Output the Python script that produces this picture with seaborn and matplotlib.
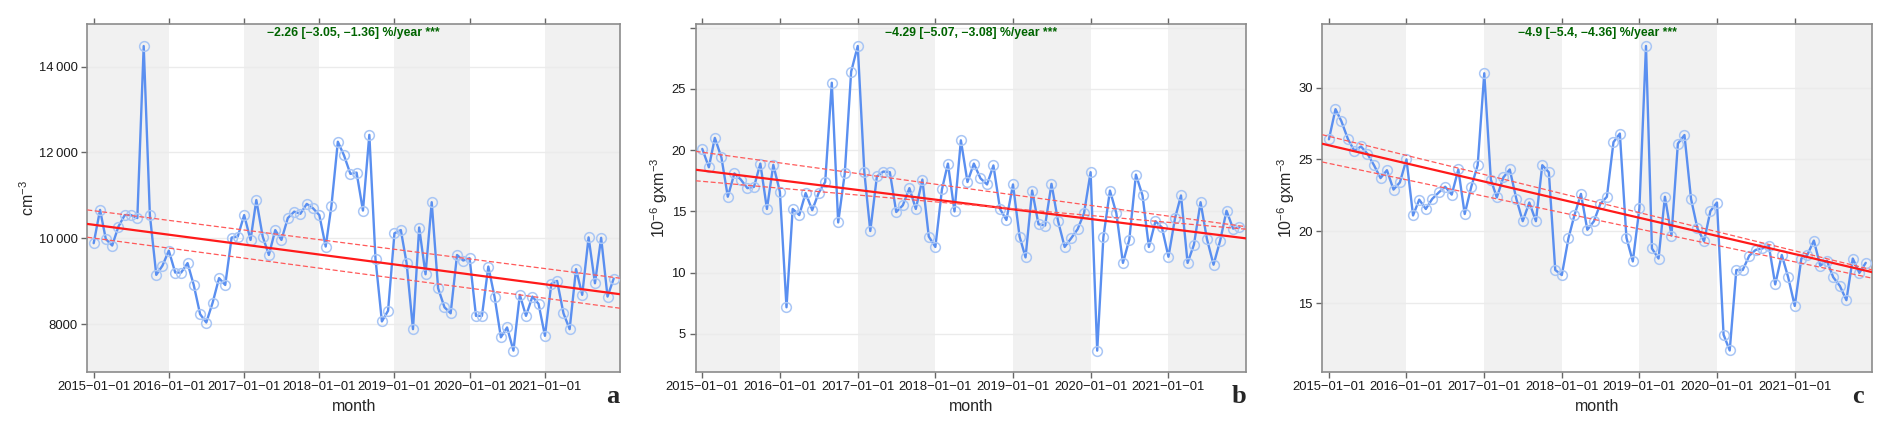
import pandas as pd
import matplotlib.pyplot as plt
import seaborn as sns

# monthly series, 2015-01 .. 2021-12
months = pd.date_range('2015-01-01', periods=84, freq='MS')

number_conc = [9884, 10660, 9980, 9830, 10270, 10540, 10540, 10470, 14480, 10540, 9145, 9360,
               9710, 9200, 9200, 9420, 8910, 8230, 8035, 8500, 9070, 8910, 10015, 10040,
               10540, 9960, 10890, 10040, 9610, 10190, 9960, 10470, 10620, 10570, 10800, 10700,
               10540, 9806, 10760, 12250, 11930, 11500, 11530, 10645, 12410, 9510, 8060, 8310,
               10115, 10190, 9420, 7880, 10250, 9160, 10840, 8835, 8390, 8250, 9610, 9480,
               9535, 8190, 8190, 9340, 8640, 7690, 7920, 7380, 8680, 8190, 8640, 8470,
               7725, 8935, 9005, 8250, 7880, 9280, 8680, 10020, 8950, 10010, 8640, 9060]

mass_b = [20.1, 18.6, 21.0, 19.4, 16.2, 18.1, 17.6, 16.9, 17.0, 18.9, 15.2, 18.8,
          16.6, 7.18, 15.2, 14.7, 16.5, 15.1, 16.5, 17.4, 25.5, 14.1, 18.1, 26.4,
          28.5, 18.2, 13.4, 17.85, 18.25, 18.2, 14.95, 15.5, 16.9, 15.2, 17.6, 12.95,
          12.1, 16.8, 18.9, 15.0, 20.8, 17.4, 18.9, 17.7, 17.2, 18.75, 15.2, 14.3,
          17.2, 12.95, 11.25, 16.7, 13.95, 13.85, 17.25, 14.2, 12.1, 12.8, 13.55, 14.85,
          18.2, 3.64, 12.9, 16.7, 14.85, 10.8, 12.7, 18.0, 16.3, 12.1, 14.2, 13.7,
          11.3, 14.45, 16.3, 10.8, 12.3, 15.75, 12.75, 10.65, 12.6, 15.05, 13.6, 13.7]

mass_c = [26.4, 28.5, 27.65, 26.4, 25.6, 25.9, 25.4, 24.6, 23.7, 24.25, 22.9, 23.4,
          25.0, 21.1, 22.2, 21.55, 22.25, 22.7, 23.1, 22.55, 24.3, 21.2, 23.1, 24.6,
          31.0, 23.6, 22.35, 23.75, 24.3, 22.25, 20.7, 22.0, 20.7, 24.6, 24.1, 17.3,
          16.95, 19.5, 21.1, 22.6, 20.1, 20.7, 21.9, 22.4, 26.2, 26.8, 19.55, 17.9,
          21.6, 32.9, 18.8, 18.1, 22.4, 19.7, 26.1, 26.7, 22.25, 20.2, 19.3, 21.4,
          22.0, 12.8, 11.7, 17.3, 17.3, 18.3, 18.7, 18.8, 19.0, 16.3, 18.35, 16.8,
          14.8, 18.1, 18.35, 19.35, 17.6, 17.95, 16.8, 16.2, 15.2, 18.1, 17.1, 17.8]

# Theil-Sen trend (value at start / end of the x range) and its CI lines
trend_a = {'fit': [10333, 8695], 'hi': [10660, 9068], 'lo': [10023, 8368]}
trend_b = {'fit': [18.4, 12.8], 'hi': [19.9, 13.75], 'lo': [17.5, 13.55]}
trend_c = {'fit': [26.09, 17.15], 'hi': [26.72, 17.31], 'lo': [24.82, 16.73]}

slope_labels = ['\u22122.26 [\u22123.05, \u22121.36] %/year ***',
                '\u22124.29 [\u22125.07, \u22123.08] %/year ***',
                '\u22124.9 [\u22125.4, \u22124.36] %/year ***']
ylabels = ['cm$^{-3}$', '10$^{-6}$ gxm$^{-3}$', '10$^{-6}$ gxm$^{-3}$']
yticks = [[8000, 10000, 12000, 14000], [5, 10, 15, 20, 25, 30], [15, 20, 25, 30]]
ytick_labels = [['8000', '10\u2009000', '12\u2009000', '14\u2009000'],
                ['5', '10', '15', '20', '25', ''],
                ['15', '20', '25', '30']]
ylims = [(6888, 14988), (1.92, 30.27), (10.22, 34.41)]
panel_letters = ['a', 'b', 'c']
year_ticks = pd.date_range('2015-01-01', '2021-01-01', freq='YS')

sns.set_style('white')
plt.rcParams['font.family'] = ['Liberation Sans', 'DejaVu Sans']
plt.rcParams['mathtext.fontset'] = 'custom'
plt.rcParams['mathtext.rm'] = 'Liberation Sans'

fig = plt.figure(figsize=(18.92, 4.34), dpi=100)
positions = [[0.04614, 0.1435, 0.2816, 0.8006],
             [0.3677, 0.1435, 0.2909, 0.8006],
             [0.6989, 0.1435, 0.2907, 0.8006]]
letter_x = [0.998, 1.0, 0.984]

x0 = pd.Timestamp('2014-12-01')
x1 = pd.Timestamp('2022-01-01')

for k, (vals, trend) in enumerate(zip([number_conc, mass_b, mass_c], [trend_a, trend_b, trend_c])):
    ax = fig.add_axes(positions[k])
    df = pd.DataFrame({'month': months, 'value': vals})

    # alternating year shading
    ax.axvspan(x0, pd.Timestamp('2016-01-01'), color='#f1f1f1', lw=0, zorder=0)
    for yr in [2017, 2019]:
        ax.axvspan(pd.Timestamp(f'{yr}-01-01'), pd.Timestamp(f'{yr + 1}-01-01'),
                   color='#f1f1f1', lw=0, zorder=0)
    ax.axvspan(pd.Timestamp('2021-01-01'), x1, color='#f1f1f1', lw=0, zorder=0)
    for yv in yticks[k]:
        ax.axhline(yv, color='#ebebeb', lw=1, zorder=0.5)

    sns.lineplot(data=df, x='month', y='value', ax=ax, color='#5a8ff0', lw=1.7,
                 marker='o', ms=7, mfc='none', mec='#a9c6f5', mew=1.1, zorder=3)

    ax.plot([x0, x1], trend['fit'], color='#ff1a1a', lw=1.6, zorder=4)
    ax.plot([x0, x1], trend['hi'], color='#ff5a5a', lw=0.9, ls=(0, (4, 2)), zorder=4)
    ax.plot([x0, x1], trend['lo'], color='#ff5a5a', lw=0.9, ls=(0, (4, 2)), zorder=4)

    ax.set_xlim(x0, x1)
    ax.set_ylim(*ylims[k])
    ax.set_xticks(year_ticks)
    ax.set_xticklabels([d.strftime('%Y\u2212%m\u2212%d') for d in year_ticks], fontsize=9.4)
    ax.set_yticks(yticks[k])
    ax.set_yticklabels(ytick_labels[k], fontsize=9.4)
    ax.set_xlabel('month', fontsize=11.5, labelpad=4)
    ax.set_ylabel(ylabels[k], fontsize=11.5, labelpad=1)
    ax.tick_params(axis='both', direction='out', length=4, width=1, color='#666666',
                   pad=3, labelcolor='#1a1a1a')
    ax.tick_params(axis='x', top=True, bottom=True, labeltop=False)
    ax.tick_params(axis='y', left=True, right=False)
    for s in ax.spines.values():
        s.set_color('#8c8c8c')
        s.set_linewidth(1.2)

    ax.text(0.5, 0.976, slope_labels[k], transform=ax.transAxes, ha='center', va='center',
            color='#006400', fontsize=8.8, fontweight='bold', zorder=5)
    ax.text(letter_x[k], -0.09, panel_letters[k], transform=ax.transAxes, ha='right',
            va='baseline', fontsize=19, fontweight='bold', family='Liberation Serif')

fig.savefig('out.png', dpi=100)
